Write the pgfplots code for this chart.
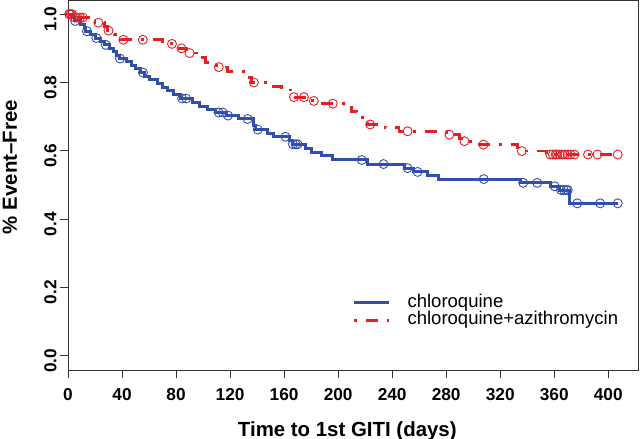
\documentclass[border=0pt]{standalone}
\usepackage{pgfplots}
\pgfplotsset{compat=1.18}
\usepackage{fontspec}
\setmainfont{Liberation Sans}
\definecolor{kmblue}{RGB}{50,80,170}
\definecolor{kmred}{RGB}{226,32,38}
\begin{document}
\begin{tikzpicture}
\useasboundingbox (0,0) rectangle (640bp,439bp);
\begin{axis}[
  at={(68bp,69bp)}, anchor=south west,
  scale only axis, width=570bp, height=369.5bp,
  xmin=0, xmax=422, ymin=-0.042, ymax=1.04,
  axis line style={black!80, line width=0.8bp},
  tick style={black!80, line width=0.8bp},
  tick align=outside, major tick length=8bp,
  xtick pos=bottom, ytick pos=left,
  xtick={0,40,...,400},
  xticklabels={0,40,80,120,160,200,240,280,320,360,400},
  ytick={0,0.2,0.4,0.6,0.8,1.0},
  yticklabels={0.0,0.2,0.4,0.6,0.8,1.0},
  ticklabel style={font=\bfseries\fontsize{17.3}{19}\selectfont},
  xticklabel style={yshift=-7bp},
  yticklabel style={rotate=90, anchor=south, xshift=-5bp},
  xlabel={Time to 1st GITI (days)},
  ylabel={\% Event–Free},
  label style={font=\bfseries\fontsize{20.5}{22}\selectfont},
  xlabel style={at={(axis description cs:0.49,-0.165)}, anchor=center},
  ylabel style={at={(axis description cs:-0.102,0.549)}, anchor=center, rotate=0},
  legend style={at={(axis cs:210.5,0.18)}, anchor=north west, draw=none, fill=none,
    font=\fontsize{18.6}{20}\selectfont, column sep=17bp, row sep=0.5bp, inner sep=0pt,
    nodes={inner sep=0pt, text height=13bp, text depth=4bp}},
  legend cell align=left,
  legend image code/.code={\draw[#1] (0bp,0bp) -- (35bp,0bp);},
  clip=false,
]
\addplot[const plot, kmblue, line width=3bp] coordinates {
(0,1.000)(3,0.990)(5,0.980)(9,0.970)(12,0.960)(13,0.950)(17,0.940)(20,0.930)
(24,0.920)(27,0.910)(31,0.900)(34,0.890)(36,0.880)(38,0.870)(43,0.860)(47,0.850)
(50,0.840)(54,0.829)(57,0.818)(60,0.808)(66,0.797)(70,0.786)(74,0.775)(78,0.764)
(83,0.753)(92,0.742)(97,0.731)(103,0.721)(109,0.712)(117,0.703)(126,0.693)
(137,0.673)(139,0.662)(148,0.651)(152,0.641)(164,0.630)(166,0.619)(176,0.607)
(180,0.596)(188,0.585)(196,0.573)(222,0.561)(249,0.549)(256,0.538)(266,0.527)
(274,0.517)(335,0.506)(357,0.496)(364,0.485)(371,0.446)(407,0.446)};
\addlegendentry{chloroquine}
\addplot[const plot, kmred, line width=2.8bp, dash pattern=on 3bp off 9bp on 12bp off 9bp] coordinates {
(0,1.000)(4,0.990)(15,0.984)(20,0.975)(27,0.963)(29,0.952)(34,0.941)(39,0.925)
(70,0.913)(80,0.900)(88,0.886)(95,0.872)(102,0.859)(110,0.845)(118,0.832)
(132,0.815)(136,0.800)(148,0.789)(158,0.778)(165,0.757)(180,0.746)(188,0.738)
(205,0.727)(210,0.716)(214,0.705)(218,0.691)(222,0.677)(235,0.667)(245,0.657)
(280,0.647)(290,0.637)(293,0.628)(300,0.618)(333,0.609)(335,0.599)(354,0.589)
(407,0.589)};
\addlegendentry{chloroquine+azithromycin}
\addplot[only marks, mark=o, mark size=4.5bp, kmblue, line width=0.9bp, forget plot] coordinates {
(1,1.000)(5.3,0.980)(14,0.950)(21,0.930)(28,0.910)(38.5,0.870)(55.5,0.829)
(84.5,0.753)(87.5,0.753)(111.5,0.712)(114.5,0.712)(118.5,0.703)(133,0.693)
(140.5,0.662)(161,0.641)(166.5,0.619)(168.5,0.619)(170,0.619)(217.5,0.573)
(233.6,0.561)(251.4,0.549)(258.8,0.538)(307.8,0.517)(337,0.506)(347.4,0.506)
(360.3,0.496)(365,0.485)(367,0.485)(369,0.485)(370,0.485)(377,0.446)(394,0.446)(407,0.446)};
\addplot[only marks, mark=o, mark size=4.5bp, kmred, line width=0.9bp, forget plot] coordinates {
(1,1.000)(2,1.000)(3,1.000)(5,0.990)(7,0.990)(9,0.990)(11,0.990)
(22.5,0.975)(30,0.952)(41,0.925)(55.4,0.925)(77,0.913)(84,0.900)(90,0.886)
(111.6,0.845)(137.6,0.800)(167.3,0.757)(174.7,0.757)(182,0.746)(196,0.738)
(223.7,0.677)(251.4,0.657)(282.4,0.647)(293.5,0.628)(307.6,0.618)(336,0.599)
(357,0.589)(359,0.589)(361,0.589)(362,0.589)(364,0.589)(366,0.589)(368,0.589)
(370,0.589)(372,0.589)(375,0.589)(385,0.589)(392,0.589)(407,0.589)};
\end{axis}
\end{tikzpicture}
\end{document}
